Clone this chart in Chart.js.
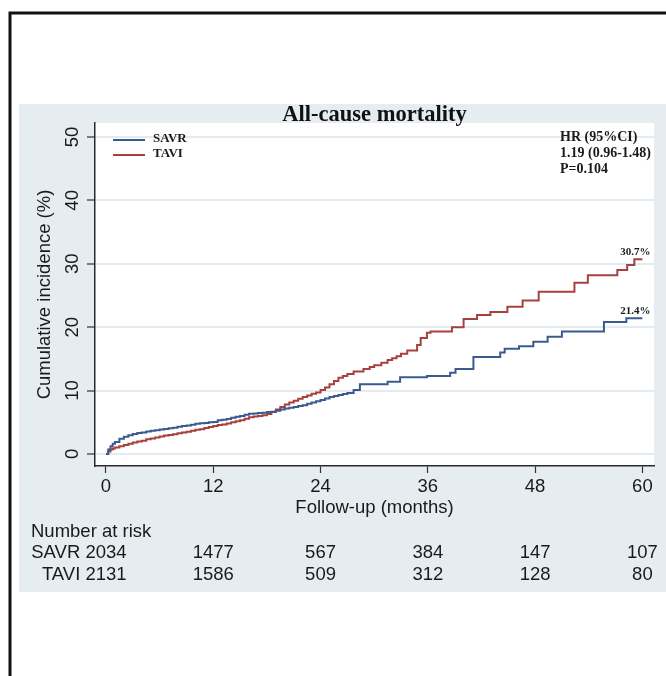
<!DOCTYPE html>
<html><head><meta charset="utf-8">
<script src="https://cdn.jsdelivr.net/npm/chart.js@4.4.1/dist/chart.umd.min.js"></script>
<style>html,body{margin:0;padding:0;background:#fff;overflow:hidden}#wrap{width:666px;height:676px;position:relative}</style>
</head><body><div id="wrap"><canvas id="c" width="666" height="676"></canvas></div>
<script>
const seriesNames = ['SAVR', 'TAVI'];
const savrMonths = [0,0.25,0.5,0.75,1,1.5,2,2.5,3,3.5,4,4.5,5,5.5,6,6.5,7,7.5,8,8.5,9,9.5,10,10.5,11,11.5,12,12.5,13,13.5,14,14.5,15,15.5,16,16.5,17,17.5,18,18.5,19,19.5,20,20.5,21,21.5,22,22.5,23,23.5,24,24.5,25,25.5,26,26.5,27,27.7,28.4,31.5,32.9,35.9,38.5,39.1,41.1,44.1,44.6,46.2,47.8,49.4,51.0,55.7,58.2,60];
const savrPct    = [0,0.7,1.2,1.6,1.9,2.4,2.7,2.95,3.15,3.3,3.4,3.55,3.65,3.75,3.85,3.95,4.05,4.15,4.3,4.4,4.5,4.6,4.75,4.85,4.9,5.0,5.05,5.3,5.4,5.5,5.7,5.85,6.0,6.2,6.35,6.4,6.45,6.5,6.6,6.65,6.8,7.0,7.15,7.3,7.4,7.55,7.7,7.9,8.1,8.3,8.5,8.75,9.0,9.15,9.3,9.45,9.6,10.1,11.0,11.4,12.1,12.3,12.8,13.4,15.3,16.0,16.6,17.0,17.7,18.5,19.3,20.8,21.4,21.4];
const taviMonths = [0,0.25,0.5,0.75,1,1.5,2,2.5,3,3.5,4,4.5,5,5.5,6,6.5,7,7.5,8,8.5,9,9.5,10,10.5,11,11.5,12,12.5,13,13.5,14,14.5,15,15.5,16,16.5,17,17.5,18,18.5,19,19.5,20,20.5,21,21.5,22,22.5,23,23.5,24,24.5,25,25.5,26,26.5,27,27.7,28.8,29.5,30,30.8,31.5,32,32.5,33,33.7,34.8,35.2,35.9,36.3,38.7,40.0,41.5,43.0,44.9,46.6,48.4,52.4,53.9,57.2,58.3,59.1,60];
const taviPct    = [0,0.4,0.7,0.85,1.0,1.2,1.4,1.6,1.8,1.95,2.1,2.3,2.45,2.6,2.75,2.9,3.0,3.1,3.25,3.4,3.5,3.65,3.8,3.9,4.1,4.25,4.4,4.55,4.65,4.8,5.0,5.15,5.3,5.55,5.8,5.9,6.0,6.1,6.3,6.6,7.0,7.4,7.8,8.1,8.4,8.7,9.0,9.2,9.5,9.7,10.1,10.5,11.0,11.5,12.0,12.3,12.6,13.0,13.4,13.7,14.0,14.4,14.8,15.1,15.4,15.8,16.3,17.2,18.3,19.1,19.3,20.0,21.3,21.9,22.4,23.2,24.2,25.6,27.0,28.2,29.0,29.8,30.7,30.7];
const xTicks = [0, 12, 24, 36, 48, 60];
const yTicks = [0, 10, 20, 30, 40, 50];
const riskMonths = [0, 12, 24, 36, 48, 60];
const savrAtRisk = [2034, 1477, 567, 384, 147, 107];
const taviAtRisk = [2131, 1586, 509, 312, 128, 80];
const hrLines = ['HR (95%CI)', '1.19 (0.96-1.48)', 'P=0.104'];
const titleText = 'All-cause mortality';
const yTitle = 'Cumulative incidence (%)';
const xTitle = 'Follow-up (months)';
const riskTitle = 'Number at risk';

const SANS = 'Liberation Sans, Arial, sans-serif';
const SERIF = 'Liberation Serif, Times New Roman, serif';
const TXT = '#1a1a1a';
const colors = ['#3b5b8f', '#a8403e'];

function pts(m, v) { return m.map((t, i) => ({x: t, y: v[i]})); }

const decor = {
  id: 'decor',
  beforeDraw(chart) {
    const ctx = chart.ctx, a = chart.chartArea;
    ctx.save();
    ctx.fillStyle = '#ffffff';
    ctx.fillRect(0, 0, chart.width, chart.height);
    ctx.fillStyle = '#e5edf0';
    ctx.fillRect(19, 104, chart.width - 19, 488);
    ctx.fillStyle = '#ffffff';
    ctx.fillRect(a.left, a.top, a.right - a.left, a.bottom - a.top);
    ctx.strokeStyle = '#111';
    ctx.lineWidth = 3;
    ctx.beginPath();
    ctx.moveTo(10, chart.height); ctx.lineTo(10, 13); ctx.lineTo(chart.width, 13);
    ctx.stroke();
    ctx.restore();
  },
  afterDatasetsDraw(chart) {
    const ctx = chart.ctx, a = chart.chartArea;
    ctx.save();
    chart.data.datasets.forEach((ds, i) => {
      const y = a.top + 17 + i * 15;
      ctx.strokeStyle = ds.borderColor; ctx.lineWidth = 2;
      ctx.beginPath(); ctx.moveTo(a.left + 18, y); ctx.lineTo(a.left + 50, y); ctx.stroke();
      ctx.fillStyle = TXT; ctx.font = 'bold 13px ' + SERIF;
      ctx.textAlign = 'left'; ctx.textBaseline = 'middle';
      ctx.fillText(ds.label, a.left + 58, y - 1);
    });
    ctx.font = 'bold 14px ' + SERIF; ctx.fillStyle = TXT;
    ctx.textAlign = 'left'; ctx.textBaseline = 'middle';
    hrLines.forEach((s, i) => ctx.fillText(s, a.right - 94, a.top + 14 + i * 16));
    ctx.font = 'bold 11px ' + SERIF; ctx.textAlign = 'right'; ctx.textBaseline = 'alphabetic';
    chart.data.datasets.forEach((ds, i) => {
      const meta = chart.getDatasetMeta(i);
      const last = meta.data[meta.data.length - 1];
      const v = ds.data[ds.data.length - 1].y;
      ctx.fillText(v.toFixed(1) + '%', last.x + 8, last.y - 4);
    });
    ctx.restore();
  },
  afterDraw(chart) {
    const ctx = chart.ctx, xs = chart.scales.x;
    ctx.save();
    ctx.fillStyle = TXT;
    ctx.font = '18.5px ' + SANS;
    ctx.textBaseline = 'alphabetic';
    ctx.textAlign = 'left';
    ctx.fillText(riskTitle, 31, 536.5);
    const rows = [[seriesNames[0], savrAtRisk, 558], [seriesNames[1], taviAtRisk, 579.5]];
    rows.forEach(([name, vals, yb]) => {
      vals.forEach((n, i) => {
        const cx = xs.getPixelForValue(riskMonths[i]);
        const s = String(n);
        ctx.textAlign = 'center';
        ctx.fillText(s, cx, yb);
        if (i === 0) {
          ctx.textAlign = 'right';
          ctx.fillText(name + ' ', cx - ctx.measureText(s).width / 2, yb);
        }
      });
    });
    ctx.restore();
  }
};

new Chart(document.getElementById('c'), {
  type: 'line',
  data: {
    datasets: [
      {label: seriesNames[0], data: pts(savrMonths, savrPct), borderColor: colors[0], borderWidth: 2, pointRadius: 0, stepped: true, fill: false},
      {label: seriesNames[1], data: pts(taviMonths, taviPct), borderColor: colors[1], borderWidth: 2, pointRadius: 0, stepped: true, fill: false}
    ]
  },
  options: {
    responsive: false, animation: false, devicePixelRatio: 1,
    layout: {padding: {left: 19, right: 12, top: 107, bottom: 156}},
    plugins: {
      legend: {display: false},
      tooltip: {enabled: false},
      title: {display: true, text: titleText, fullSize: false, align: 'center', color: '#111',
        padding: {top: 0, bottom: 0},
        font: {family: SERIF, size: 22.5, weight: 'bold', lineHeight: 0.711}}
    },
    scales: {
      x: {
        type: 'linear', min: -1.23, max: 61.3,
        afterBuildTicks: s => { s.ticks = xTicks.map(v => ({value: v})); },
        afterFit: s => { s.height = 54; },
        grid: {drawOnChartArea: false, drawTicks: true, tickLength: 7, tickColor: '#333', tickWidth: 1.2},
        border: {display: true, color: '#2a2a2a', width: 1.5},
        ticks: {padding: 3, maxRotation: 0, autoSkip: false, color: TXT, font: {family: SANS, size: 18.5}},
        title: {display: true, text: xTitle, color: TXT, padding: {top: 0, bottom: 1}, font: {family: SANS, size: 18.5}}
      },
      y: {
        type: 'linear', min: -1.9, max: 52.2,
        afterBuildTicks: s => { s.ticks = yTicks.map(v => ({value: v})); },
        afterFit: s => { s.width = 76; },
        grid: {color: '#e1ebf0', lineWidth: 2, drawTicks: true, tickLength: 8, tickColor: '#333', tickWidth: 1.2},
        border: {display: true, color: '#2a2a2a', width: 1.5},
        ticks: {minRotation: 90, maxRotation: 90, crossAlign: 'center', padding: 4, color: TXT, font: {family: SANS, size: 18.5}},
        title: {display: true, text: yTitle, color: TXT, padding: {top: 15, bottom: 0}, font: {family: SANS, size: 18.5}}
      }
    }
  },
  plugins: [decor]
});
</script>
</body></html>
